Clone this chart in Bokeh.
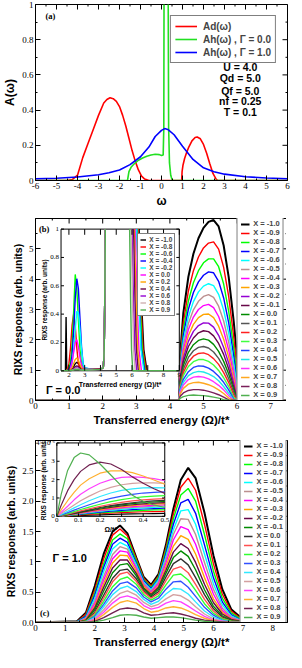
from math import pi
from bokeh.plotting import figure
from bokeh.models import Range1d, FixedTicker, Legend, LegendItem, Label
from bokeh.layouts import column
from bokeh.core.properties import value
from bokeh.embed import file_html
from bokeh.resources import INLINE

nan = float("nan")
SERIF = "Liberation Serif"
SANS = "Liberation Sans"

# ---------------- panel (a) data ----------------
a_red_x = [-6.0, -4.5, -4.25, -4.0, -3.75, -3.5, -3.25, -3.0, -2.75, -2.6, -2.45, -2.3, -2.15, -2.0, -1.85,
           -1.7, -1.55, -1.4, -1.25, -1.1, -0.95, -0.8, -0.6, 0.96, 0.98, 1.02, 1.1, 1.2, 1.3, 1.45,
           1.6, 1.7, 1.85, 2.0, 2.15, 2.3, 2.45, 2.6, 2.68, 6.0]
a_red_y = [0, 0, 0.005, 0.03, 0.13, 0.21, 0.29, 0.37, 0.44, 0.46, 0.47, 0.465, 0.45, 0.42, 0.37,
           0.31, 0.24, 0.17, 0.11, 0.06, 0.025, 0.008, 0, 0, 0.05, 0.085, 0.125, 0.16, 0.19, 0.225,
           0.244, 0.247, 0.237, 0.205, 0.155, 0.095, 0.04, 0.008, 0, 0]
a_grn_x = [-6.0, -1.62, -1.55, -1.45, -1.3, -1.1, -0.9, -0.7, -0.5, -0.3, -0.1, 0.0, 0.08, 0.11, 0.12,
           0.14, 0.22, 0.3, 0.32, 0.34, 0.38, 0.44, 0.5, 0.55, 6.0]
a_grn_y = [0, 0, 0.05, 0.075, 0.095, 0.115, 0.128, 0.138, 0.145, 0.149, 0.147, 0.142, 0.145, 0.3, 1.0,
           1.6, 2.0, 1.6, 1.0, 0.3, 0.1, 0.03, 0.005, 0, 0]
a_blu_x = [-6, -5, -4, -3, -2.5, -2, -1.5, -1.0, -0.6, -0.3, 0.0, 0.15, 0.3, 0.6, 1.0, 1.5, 2.0, 2.5,
           3.0, 4.0, 5.0, 6.0]
a_blu_y = [0.010, 0.013, 0.02, 0.033, 0.044, 0.06, 0.09, 0.135, 0.19, 0.25, 0.285, 0.295, 0.29, 0.26,
           0.195, 0.12, 0.072, 0.05, 0.036, 0.021, 0.014, 0.01]
a_labels = ["Ad(ω)", "Ah(ω) , Γ = 0.0", "Ah(ω) , Γ = 1.0"]
a_params = ["U = 4.0", "Qd = 5.0", "Qf = 5.0", "nf = 0.25", "T = 0.1"]

# ---------------- panel (b) data (units of 1e-3) ----------------
x_labels_20 = ["X = -1.0", "X = -0.9", "X = -0.8", "X = -0.7", "X = -0.6", "X = -0.5", "X = -0.4",
               "X = -0.3", "X = -0.2", "X = -0.1", "X = 0.0", "X = 0.1", "X = 0.2", "X = 0.3",
               "X = 0.4", "X = 0.5", "X = 0.6", "X = 0.7", "X = 0.8", "X = 0.9"]
b_colors = ["#000000", "#ff0000", "#00ff00", "#0000ff", "#00ffff", "#bc8f8f", "#ff00ff", "#ffa500",
            "#9400d3", "#670748", "#008b00", "#555555", "#ff2020", "#40ff40", "#2040ff", "#20e8e8",
            "#ff30ff", "#ffa820", "#7a1f5a", "#50b050"]
b_x = [0, 4.27, 4.3, 4.4, 4.55, 4.7, 4.85, 5.0, 5.15, 5.3, 5.45, 5.6, 5.75, 5.9, 6.0, 6.1, 6.3, 7.5]
b_y = [
    [0, 0, 1.42, 2.89, 4.08, 4.84, 5.35, 5.69, 5.89, 5.95, 5.74, 5.11, 4.07, 2.60, 1.39, 0.04, 0.01, 0],
    [0, 0, 1.27, 2.57, 3.61, 4.28, 4.73, 5.03, 5.19, 5.23, 4.99, 4.39, 3.43, 2.09, 0.99, 0.04, 0.01, 0],
    [0, 0, 1.15, 2.34, 3.28, 3.88, 4.28, 4.54, 4.67, 4.67, 4.41, 3.84, 2.94, 1.74, 0.76, 0.04, 0.01, 0],
    [0, 0, 1.06, 2.15, 3.01, 3.56, 3.91, 4.13, 4.24, 4.21, 3.93, 3.38, 2.56, 1.46, 0.59, 0.04, 0.01, 0],
    [0, 0, 0.98, 1.97, 2.76, 3.26, 3.58, 3.77, 3.85, 3.79, 3.50, 2.98, 2.22, 1.22, 0.43, 0.04, 0.01, 0],
    [0, 0, 0.90, 1.81, 2.54, 2.99, 3.27, 3.43, 3.49, 3.40, 3.11, 2.62, 1.92, 1.02, 0.31, 0.03, 0.01, 0],
    [0, 0, 0.83, 1.67, 2.34, 2.75, 3.00, 3.13, 3.17, 3.06, 2.77, 2.30, 1.66, 0.85, 0.21, 0.03, 0.01, 0],
    [0, 0, 0.76, 1.54, 2.14, 2.51, 2.73, 2.84, 2.85, 2.73, 2.45, 2.02, 1.43, 0.70, 0.12, 0.03, 0.01, 0],
    [0, 0, 0.70, 1.40, 1.95, 2.28, 2.47, 2.56, 2.55, 2.42, 2.15, 1.75, 1.23, 0.57, 0.05, 0.02, 0.01, 0],
    [0, 0, 0.64, 1.28, 1.78, 2.06, 2.23, 2.30, 2.27, 2.13, 1.88, 1.52, 1.04, 0.45, 0.03, 0.02, 0.01, 0],
    [0, 0, 0.57, 1.15, 1.59, 1.84, 1.98, 2.03, 1.99, 1.85, 1.62, 1.29, 0.87, 0.36, 0.03, 0.02, 0.01, 0],
    [0, 0, 0.51, 1.03, 1.42, 1.64, 1.75, 1.78, 1.73, 1.60, 1.39, 1.10, 0.72, 0.27, 0.03, 0.02, 0, 0],
    [0, 0, 0.46, 0.92, 1.27, 1.46, 1.55, 1.57, 1.51, 1.38, 1.19, 0.92, 0.59, 0.18, 0.02, 0.01, 0, 0],
    [0, 0, 0.41, 0.82, 1.12, 1.28, 1.35, 1.35, 1.29, 1.17, 0.99, 0.75, 0.46, 0.10, 0.02, 0.01, 0, 0],
    [0, 0, 0.35, 0.70, 0.95, 1.09, 1.14, 1.13, 1.07, 0.96, 0.80, 0.60, 0.35, 0.04, 0.01, 0.01, 0, 0],
    [0, 0, 0.30, 0.60, 0.82, 0.92, 0.96, 0.94, 0.88, 0.79, 0.65, 0.46, 0.24, 0.01, 0.01, 0, 0, 0],
    [0, 0, 0.26, 0.51, 0.69, 0.77, 0.79, 0.77, 0.71, 0.62, 0.50, 0.35, 0.16, 0.01, 0.01, 0, 0, 0],
    [0, 0, 0.20, 0.40, 0.54, 0.59, 0.60, 0.57, 0.52, 0.45, 0.35, 0.23, 0.08, 0.01, 0, 0, 0, 0],
    [0, 0, 0.13, 0.25, 0.33, 0.36, 0.36, 0.34, 0.30, 0.25, 0.19, 0.11, 0.02, 0.01, 0, 0, 0, 0],
    [0, 0, 0.07, 0.13, 0.17, 0.18, 0.17, 0.16, 0.14, 0.11, 0.08, 0.03, 0.01, 0, 0, 0, 0, 0],
]

# inset (b)
bi_labels = ["X = -1.0", "X = -0.8", "X = -0.6", "X = -0.4", "X = -0.2", "X = 0.0", "X = 0.2",
             "X = 0.4", "X = 0.6", "X = 0.8", "X = 0.9"]
bi_colors = ["#000000", "#ff0000", "#00ff00", "#0000ff", "#00ffff", "#ff00ff", "#ffa500", "#670748",
             "#9400d3", "#d0b0b0", "#50b050"]
bi_x = [1.5, 1.78, 1.82, 1.86, 1.9, 2.0, 2.1, 2.2, 2.3, 2.4, 2.5, 2.6, 2.7, 2.8, 2.9, 3.0, 3.5, 4.0,
        4.18, 4.24, 4.28, 4.31]
bi_y = [
    [0, 0, 0.38, 0.02, 0.01, 0.01, 0.01, 0.015, 0.03, 0.05, 0.06, 0.05, 0.03, 0.015, 0.01, 0.01, 0.01, 0.012, 0.02, 0.15, 0.6, 1.0],
    [0, 0, 0, 0, 0.01, 0.05, 0.16, 0.32, 0.40, 0.32, 0.16, 0.05, 0.02, 0.01, 0.01, 0.01, 0.01, 0.012, 0.02, 0.15, 0.6, 1.0],
    [0, 0, 0, 0, 0, 0.02, 0.06, 0.18, 0.42, 0.68, 0.58, 0.36, 0.15, 0.05, 0.02, 0.01, 0.01, 0.012, 0.02, 0.15, 0.6, 1.0],
    [0, 0, 0, 0, 0, 0.01, 0.03, 0.11, 0.28, 0.51, 0.65, 0.58, 0.37, 0.17, 0.05, 0.02, 0.01, 0.012, 0.02, 0.15, 0.6, 1.0],
    [0, 0, 0, 0, 0, 0, 0.01, 0.05, 0.15, 0.29, 0.42, 0.41, 0.29, 0.15, 0.05, 0.02, 0.01, 0.012, 0.02, 0.15, 0.6, 1.0],
    [0, 0, 0, 0, 0, 0, 0.02, 0.06, 0.13, 0.20, 0.22, 0.17, 0.095, 0.04, 0.015, 0.01, 0.01, 0.012, 0.02, 0.15, 0.6, 1.0],
    [0, 0, 0, 0, 0, 0, 0.01, 0.02, 0.05, 0.08, 0.09, 0.075, 0.045, 0.02, 0.01, 0.01, 0.01, 0.012, 0.02, 0.15, 0.6, 1.0],
    [0, 0, 0, 0, 0, 0, 0, 0.01, 0.02, 0.03, 0.035, 0.03, 0.015, 0.01, 0.01, 0.01, 0.01, 0.012, 0.02, 0.15, 0.6, 1.0],
    [0, 0, 0, 0, 0, 0, 0, 0.005, 0.01, 0.018, 0.02, 0.017, 0.01, 0.008, 0.006, 0.006, 0.008, 0.01, 0.02, 0.15, 0.6, 1.0],
    [0, 0, 0, 0, 0, 0, 0, 0.004, 0.008, 0.013, 0.015, 0.013, 0.008, 0.006, 0.005, 0.005, 0.007, 0.01, 0.02, 0.15, 0.6, 1.0],
    [0, 0, 0, 0, 0, 0, 0, 0.003, 0.006, 0.009, 0.01, 0.009, 0.006, 0.005, 0.004, 0.004, 0.006, 0.01, 0.02, 0.15, 0.6, 1.0],
]
bi_fall_x = [
    [6.45, 6.6, 6.75, 6.95], [6.4, 6.55, 6.7, 6.9], [6.35, 6.5, 6.65, 6.85], [6.3, 6.45, 6.6, 6.8],
    [6.3, 6.44, 6.57, 6.75], [6.2, 6.32, 6.44, 6.6], [6.15, 6.26, 6.36, 6.5], [6.1, 6.19, 6.28, 6.4],
    [6.0, 6.09, 6.18, 6.3], [5.95, 6.03, 6.1, 6.2], [5.85, 5.91, 5.97, 6.05],
]
bi_fall_y = [1.0, 0.5, 0.15, 0.0]

# ---------------- panel (c) data (units of 1e-3) ----------------
c_colors = ["#000000", "#ff0000", "#00ff00", "#0000ff", "#00ffff", "#bc8f8f", "#ff00ff", "#ffa500",
            "#670748", "#008b00", "#303030", "#ff5050", "#30ff30", "#3050ff", "#30e8ff", "#d4a0a0",
            "#ff40ff", "#ffb030", "#702050", "#50b050"]
c_x = [0, 1.4, 1.7, 2.0, 2.3, 2.6, 2.85, 3.1, 3.4, 3.65, 3.9, 4.15, 4.4, 4.65, 4.9, 5.15, 5.4, 5.7,
       6.0, 6.3, 6.6, 7.0, 7.5, 8.0]
c_y = [
    [0, 0.02, 0.16, 0.60, 1.13, 1.50, 1.60, 1.47, 1.07, 0.75, 0.62, 0.80, 1.28, 1.87, 2.35, 2.55, 2.38, 1.81, 1.11, 0.55, 0.22, 0.05, 0.01, 0],
    [0, 0.01, 0.14, 0.54, 1.05, 1.44, 1.54, 1.43, 1.05, 0.73, 0.60, 0.77, 1.23, 1.79, 2.23, 2.38, 2.18, 1.62, 0.97, 0.47, 0.19, 0.04, 0.01, 0],
    [0, 0.01, 0.11, 0.49, 0.97, 1.36, 1.46, 1.38, 1.02, 0.71, 0.58, 0.75, 1.19, 1.71, 2.10, 2.21, 2.00, 1.45, 0.85, 0.40, 0.16, 0.03, 0.01, 0],
    [0, 0.01, 0.10, 0.45, 0.91, 1.29, 1.39, 1.32, 0.98, 0.69, 0.56, 0.72, 1.14, 1.62, 1.97, 2.03, 1.80, 1.28, 0.74, 0.34, 0.13, 0.02, 0.005, 0],
    [0, 0.01, 0.08, 0.40, 0.84, 1.21, 1.32, 1.26, 0.95, 0.66, 0.54, 0.70, 1.09, 1.53, 1.84, 1.86, 1.62, 1.13, 0.64, 0.29, 0.11, 0.02, 0, 0],
    [0, 0, 0.07, 0.35, 0.76, 1.12, 1.25, 1.21, 0.91, 0.64, 0.52, 0.67, 1.04, 1.45, 1.71, 1.70, 1.45, 0.99, 0.55, 0.24, 0.09, 0.02, 0, 0],
    [0, 0, 0.06, 0.31, 0.70, 1.05, 1.18, 1.16, 0.89, 0.62, 0.50, 0.64, 0.98, 1.36, 1.58, 1.53, 1.29, 0.86, 0.47, 0.20, 0.07, 0.01, 0, 0],
    [0, 0, 0.05, 0.27, 0.64, 0.98, 1.11, 1.10, 0.85, 0.60, 0.48, 0.60, 0.92, 1.26, 1.43, 1.37, 1.13, 0.74, 0.39, 0.17, 0.06, 0.01, 0, 0],
    [0, 0, 0.04, 0.24, 0.58, 0.90, 1.03, 1.03, 0.81, 0.57, 0.46, 0.58, 0.86, 1.16, 1.30, 1.22, 0.99, 0.63, 0.33, 0.14, 0.05, 0.01, 0, 0],
    [0, 0, 0.03, 0.21, 0.52, 0.82, 0.95, 0.97, 0.77, 0.55, 0.44, 0.55, 0.81, 1.07, 1.18, 1.09, 0.87, 0.54, 0.27, 0.11, 0.04, 0.01, 0, 0],
    [0, 0, 0.02, 0.17, 0.45, 0.73, 0.86, 0.88, 0.72, 0.52, 0.42, 0.51, 0.75, 0.97, 1.05, 0.95, 0.74, 0.46, 0.23, 0.09, 0.03, 0.01, 0, 0],
    [0, 0, 0.02, 0.15, 0.40, 0.67, 0.80, 0.83, 0.68, 0.50, 0.40, 0.48, 0.69, 0.88, 0.92, 0.82, 0.63, 0.38, 0.19, 0.07, 0.02, 0.01, 0, 0],
    [0, 0, 0.02, 0.12, 0.35, 0.59, 0.71, 0.75, 0.63, 0.46, 0.37, 0.44, 0.62, 0.78, 0.80, 0.70, 0.53, 0.31, 0.15, 0.06, 0.02, 0, 0, 0],
    [0, 0, 0.01, 0.10, 0.30, 0.52, 0.64, 0.67, 0.57, 0.42, 0.34, 0.40, 0.55, 0.67, 0.68, 0.58, 0.43, 0.25, 0.12, 0.04, 0.01, 0, 0, 0],
    [0, 0, 0.01, 0.08, 0.26, 0.46, 0.56, 0.60, 0.51, 0.38, 0.30, 0.35, 0.47, 0.56, 0.55, 0.47, 0.34, 0.19, 0.09, 0.03, 0.01, 0, 0, 0],
    [0, 0, 0.01, 0.06, 0.21, 0.38, 0.48, 0.52, 0.45, 0.33, 0.26, 0.30, 0.39, 0.46, 0.44, 0.37, 0.26, 0.14, 0.06, 0.02, 0.01, 0, 0, 0],
    [0, 0, 0, 0.05, 0.17, 0.32, 0.41, 0.44, 0.39, 0.28, 0.22, 0.25, 0.32, 0.36, 0.34, 0.27, 0.19, 0.10, 0.04, 0.02, 0, 0, 0, 0],
    [0, 0, 0, 0.03, 0.13, 0.25, 0.33, 0.36, 0.32, 0.23, 0.17, 0.19, 0.24, 0.26, 0.24, 0.19, 0.13, 0.07, 0.03, 0.01, 0, 0, 0, 0],
    [0, 0, 0, 0.02, 0.08, 0.16, 0.22, 0.24, 0.22, 0.16, 0.12, 0.13, 0.15, 0.16, 0.14, 0.11, 0.07, 0.04, 0.02, 0.01, 0, 0, 0, 0],
    [0, 0, 0, 0.01, 0.04, 0.08, 0.12, 0.13, 0.12, 0.09, 0.07, 0.08, 0.09, 0.09, 0.08, 0.06, 0.04, 0.02, 0.01, 0, 0, 0, 0, 0],
]

# inset (c) (units of 1e-6)
ci_x = [0, 0.02, 0.05, 0.08, 0.11, 0.15, 0.2, 0.25, 0.3, 0.35, 0.4, 0.45, 0.5]
ci_y = [
    [0, 0.005, 0.015, 0.03, 0.04, 0.06, 0.08, 0.10, 0.12, 0.13, 0.14, 0.15, 0.16],
    [0, 0.01, 0.03, 0.05, 0.08, 0.11, 0.14, 0.17, 0.20, 0.23, 0.25, 0.26, 0.27],
    [0, 0.015, 0.04, 0.07, 0.10, 0.14, 0.19, 0.23, 0.27, 0.30, 0.33, 0.35, 0.36],
    [0, 0.02, 0.05, 0.09, 0.12, 0.17, 0.23, 0.28, 0.33, 0.37, 0.40, 0.42, 0.44],
    [0, 0.02, 0.06, 0.10, 0.14, 0.20, 0.27, 0.33, 0.38, 0.43, 0.46, 0.49, 0.51],
    [0, 0.025, 0.065, 0.11, 0.16, 0.23, 0.30, 0.37, 0.43, 0.48, 0.52, 0.55, 0.57],
    [0, 0.03, 0.07, 0.13, 0.18, 0.25, 0.34, 0.41, 0.47, 0.53, 0.57, 0.60, 0.63],
    [0, 0.03, 0.08, 0.14, 0.20, 0.28, 0.37, 0.45, 0.52, 0.58, 0.63, 0.66, 0.69],
    [0, 0.03, 0.085, 0.15, 0.22, 0.30, 0.40, 0.49, 0.57, 0.63, 0.68, 0.72, 0.75],
    [0, 0.04, 0.09, 0.17, 0.24, 0.33, 0.44, 0.54, 0.62, 0.69, 0.74, 0.78, 0.81],
    [0, 0.04, 0.10, 0.18, 0.26, 0.36, 0.48, 0.58, 0.67, 0.74, 0.80, 0.84, 0.87],
    [0, 0.05, 0.12, 0.21, 0.30, 0.41, 0.54, 0.66, 0.76, 0.84, 0.90, 0.94, 0.97],
    [0, 0.06, 0.15, 0.26, 0.37, 0.50, 0.66, 0.80, 0.91, 1.00, 1.06, 1.10, 1.13],
    [0, 0.08, 0.20, 0.34, 0.47, 0.63, 0.82, 0.98, 1.10, 1.20, 1.27, 1.31, 1.33],
    [0, 0.10, 0.28, 0.46, 0.63, 0.85, 1.08, 1.27, 1.41, 1.50, 1.55, 1.56, 1.55],
    [0, 0.15, 0.38, 0.62, 0.85, 1.10, 1.38, 1.58, 1.72, 1.80, 1.83, 1.82, 1.80],
    [0, 0.22, 0.55, 0.90, 1.20, 1.50, 1.80, 2.00, 2.12, 2.15, 2.12, 2.05, 1.95],
    [0, 0.35, 0.85, 1.30, 1.70, 2.05, 2.35, 2.48, 2.48, 2.38, 2.20, 1.98, 1.75],
    [0, 0.60, 1.40, 2.00, 2.45, 2.80, 2.95, 2.85, 2.55, 2.15, 1.80, 1.50, 1.25],
    [0, 1.20, 2.50, 3.20, 3.45, 3.35, 2.85, 2.25, 1.65, 1.15, 0.82, 0.62, 0.48],
]

# ---------------- layout constants ----------------
FW = 252
BL, BR = 30, 4


def make_fig(xr, yr, fh, bt, bb):
    p = figure(frame_width=FW, frame_height=fh,
               x_range=Range1d(xr[0], xr[1]), y_range=Range1d(yr[0], yr[1]),
               min_border_left=BL, min_border_right=BR, min_border_top=bt, min_border_bottom=bb,
               output_backend="svg", toolbar_location=None)
    p.xgrid.visible = False
    p.ygrid.visible = False
    p.outline_line_color = "black"
    p.background_fill_color = "white"
    p.border_fill_color = "white"
    return p


def style_axes(p, xr, yr, xt, xm, yt, ym, xl, yl, xtitle, ytitle, xts, yts):
    xtk = FixedTicker(ticks=xt, minor_ticks=xm)
    ytk = FixedTicker(ticks=yt, minor_ticks=ym)
    ax, ay = p.xaxis[0], p.yaxis[0]
    ax.ticker = xtk
    ay.ticker = ytk
    ax.major_label_overrides = dict(zip(xt, xl))
    ay.major_label_overrides = dict(zip(yt, yl))
    ax.axis_label = xtitle
    ay.axis_label = ytitle
    for a in (ax, ay):
        a.major_tick_in = 5
        a.major_tick_out = 0
        a.minor_tick_in = 2
        a.minor_tick_out = 0
        a.axis_line_color = "black"
        a.major_tick_line_color = "black"
        a.minor_tick_line_color = "black"
        a.major_label_text_font = SERIF
        a.major_label_text_font_size = "9px"
        a.major_label_text_color = "black"
        a.major_label_standoff = 2
        a.axis_label_text_font = SANS
        a.axis_label_text_font_style = "bold"
        a.axis_label_text_color = "black"
        a.axis_label_standoff = 2
    ax.axis_label_text_font_size = xts
    ay.axis_label_text_font_size = yts
    # mirrored inward ticks on the top and right frame edges (outer half clipped by the frame)
    p.scatter(x=xt, y=[yr[1]] * len(xt), marker="dash", angle=pi / 2, size=10, line_color="black")
    p.scatter(x=xm, y=[yr[1]] * len(xm), marker="dash", angle=pi / 2, size=4, line_color="black")
    p.scatter(x=[xr[1]] * len(yt), y=yt, marker="dash", size=10, line_color="black")
    p.scatter(x=[xr[1]] * len(ym), y=ym, marker="dash", size=4, line_color="black")


def add_label(p, x, y, text, size, font=SANS, bold=True, align="left", baseline="middle", xo=0, yo=0):
    p.add_layout(Label(x=x, y=y, text=text, text_font=font, text_font_size=size,
                       text_font_style="bold" if bold else "normal", text_align=align,
                       text_baseline=baseline, x_offset=xo, y_offset=yo, text_color="black"))


def steps(a, b, step):
    n = int(round((b - a) / step))
    return [a + i * step for i in range(n + 1)]


def inset_axes(sub, xs, ys, xt, xl, yt, yl, xtitle, ytitle, xto, yto):
    dy = 0.04 * (ys[1] - ys[0])
    dx = 0.025 * (xs[1] - xs[0])
    n, m = len(xt), len(yt)
    kw = dict(line_color="black", line_width=1)
    sub.segment(x0=xt, y0=[ys[0]] * n, x1=xt, y1=[ys[0] + dy] * n, **kw)
    sub.segment(x0=xt, y0=[ys[1]] * n, x1=xt, y1=[ys[1] - dy] * n, **kw)
    sub.segment(x0=[xs[0]] * m, y0=yt, x1=[xs[0] + dx] * m, y1=yt, **kw)
    sub.segment(x0=[xs[1]] * m, y0=yt, x1=[xs[1] - dx] * m, y1=yt, **kw)
    sub.text(x=xt, y=[ys[0]] * n, text=xl, text_align="center", text_baseline="top", y_offset=2,
             text_font=value(SERIF), text_font_size="7px", text_color="black")
    sub.text(x=[xs[0]] * m, y=yt, text=yl, text_align="right", text_baseline="middle", x_offset=-2,
             text_font=value(SERIF), text_font_size="7px", text_color="black")
    sub.text(x=[(xs[0] + xs[1]) / 2], y=[ys[0]], text=[xtitle], text_align="center", text_baseline="top",
             y_offset=xto, text_font=value(SANS), text_font_style="bold", text_font_size="7px",
             text_color="black")
    sub.text(x=[xs[0]], y=[(ys[0] + ys[1]) / 2], text=[ytitle], angle=pi / 2, text_align="center",
             text_baseline="bottom", x_offset=-yto, text_font=value(SANS), text_font_style="bold",
             text_font_size="6.5px", text_color="black")


# ================= panel (a) =================
FH_A = 176
a_xr, a_yr = (-6, 6), (0, 1)
pa = make_fig(a_xr, a_yr, FH_A, 4, 27)
a_xt = list(range(-6, 7))
a_yt = [0, 0.2, 0.4, 0.6, 0.8, 1]
style_axes(pa, a_xr, a_yr, a_xt, steps(-5.5, 5.5, 1.0), a_yt, [0.1, 0.3, 0.5, 0.7, 0.9],
           [str(v) for v in a_xt], ["0", "0.2", "0.4", "0.6", "0.8", "1"],
           "ω", "A(ω)", "12px", "12px")
r_red = pa.line(a_red_x, a_red_y, line_color="#ff0000", line_width=1.6)
r_grn = pa.line(a_grn_x, a_grn_y, line_color="#22e022", line_width=1.6)
r_blu = pa.line(a_blu_x, a_blu_y, line_color="#0000ff", line_width=1.6)
leg_a = Legend(items=[LegendItem(label=a_labels[0], renderers=[r_red]),
                      LegendItem(label=a_labels[1], renderers=[r_grn]),
                      LegendItem(label=a_labels[2], renderers=[r_blu])],
               location="top_right", margin=11, label_text_font=SANS, label_text_font_style="bold",
               label_text_font_size="10px", glyph_width=22, glyph_height=12, label_height=12,
               spacing=1, padding=4, label_standoff=6, border_line_color="black",
               border_line_width=1, background_fill_alpha=1.0)
pa.add_layout(leg_a)
a_param_y = [0.643, 0.582, 0.511, 0.45, 0.388]
for txt, yy in zip(a_params, a_param_y):
    add_label(pa, 3.75, yy, txt, "10.5px", align="center")
add_label(pa, -5.29, 0.933, "(a)", "8.5px", font=SERIF, align="center")

# ================= panel (b) =================
FH_B = 182
b_xr, b_yr = (0, 7.5), (0, 6)
pb = make_fig(b_xr, b_yr, FH_B, 8, 30)
b_xt = list(range(0, 8))
b_yt = list(range(0, 7))
style_axes(pb, b_xr, b_yr, b_xt, steps(0.5, 7.5, 1.0), b_yt, steps(0.5, 5.5, 1.0),
           [str(v) for v in b_xt], ["0", "1", "2", "3", "4", "5", ""],
           "Transferred energy (Ω)/t*", "RIXS response (arb. units)", "11.5px", "10.5px")
rb = []
for k, (ys, col) in enumerate(zip(b_y, b_colors)):
    rb.append(pb.line(b_x, ys, line_color=col, line_width=2 if k == 0 else 1.4))
leg_b = Legend(items=[LegendItem(label=l, renderers=[r]) for l, r in zip(x_labels_20, rb)],
               location="right", margin=0, label_text_font=SANS, label_text_font_style="bold",
               label_text_font_size="7.5px", glyph_width=9, glyph_height=8, label_height=8,
               spacing=0, padding=3, label_standoff=4, border_line_color="black",
               border_line_width=1, background_fill_alpha=1.0)
pb.add_layout(leg_b)
add_label(pb, 0, 6, "6×10⁻³", "8px", font=SERIF, bold=False, align="right", xo=-2)
add_label(pb, 0.26, 5.67, "(b)", "8.5px", font=SERIF, align="center")
add_label(pb, 0.31, 0.36, "Γ = 0.0", "11px")

bi_xr, bi_yr = (1.5, 9.0), (0.0, 1.0)
sb = pb.subplot(x_source=Range1d(*bi_xr), y_source=Range1d(*bi_yr),
                x_target=Range1d(0.76, 4.28), y_target=Range1d(0.98, 5.65))
sb.quad(left=[bi_xr[0]], right=[bi_xr[1]], bottom=[bi_yr[0]], top=[bi_yr[1]],
        fill_color="white", line_color="black", line_width=1)
rbi = []
for k in range(len(bi_y)):
    xs = bi_x + [5.0] + bi_fall_x[k] + [9.0]
    ys = bi_y[k] + [nan] + bi_fall_y + [0.0]
    rbi.append(sb.line(xs, ys, line_color=bi_colors[k], line_width=1.4))
inset_axes(sb, bi_xr, bi_yr, list(range(2, 10)), [str(v) for v in range(2, 10)],
           [0, 0.2, 0.4, 0.6, 0.8, 1], ["0", "0.2", "0.4", "0.6", "0.8", "1"],
           "Transferred energy (Ω)/t*", "RIXS response (arb. units)", 10, 13)
bleg_left = int(round(3.21 / 7.5 * FW))
bleg_bottom = int(round(2.77 / 6 * FH_B))
leg_bi = Legend(items=[LegendItem(label=l, renderers=[r]) for l, r in zip(bi_labels, rbi)],
                location=(bleg_left, bleg_bottom), margin=0, label_text_font=SANS,
                label_text_font_style="bold", label_text_font_size="6.5px", glyph_width=6,
                glyph_height=7, label_height=7, spacing=0, padding=2, label_standoff=3,
                border_line_color="black", border_line_width=1, background_fill_alpha=1.0)
pb.add_layout(leg_bi)

# ================= panel (c) =================
FH_C = 182
c_xr, c_yr = (0, 8.5), (0, 3)
pc = make_fig(c_xr, c_yr, FH_C, 10, 30)
c_xt = list(range(0, 9))
c_yt = [0, 0.5, 1, 1.5, 2, 2.5, 3]
style_axes(pc, c_xr, c_yr, c_xt, steps(0.5, 8.5, 1.0), c_yt, [0.25, 0.75, 1.25, 1.75, 2.25, 2.75],
           [str(v) for v in c_xt], ["0.0", "0.5", "1", "1.5", "2.0", "2.5", ""],
           "Transferred energy (Ω)/t*", "RIXS response (arb. units)", "11.5px", "10.5px")
rc = []
for k, (ys, col) in enumerate(zip(c_y, c_colors)):
    rc.append(pc.line(c_x, ys, line_color=col, line_width=2 if k == 0 else 1.4))
leg_c = Legend(items=[LegendItem(label=l, renderers=[r]) for l, r in zip(x_labels_20, rc)],
               location="right", margin=0, label_text_font=SANS, label_text_font_style="bold",
               label_text_font_size="7.5px", glyph_width=9, glyph_height=8, label_height=8,
               spacing=0, padding=3, label_standoff=4, border_line_color="black",
               border_line_width=1, background_fill_alpha=1.0)
pc.add_layout(leg_c)
add_label(pc, 0, 3, "3×10⁻³", "8px", font=SERIF, bold=False, align="right", xo=-2)
add_label(pc, 0.31, 0.15, "(c)", "8.5px", font=SERIF, align="center")
add_label(pc, 0.575, 1.07, "Γ = 1.0", "11px")

ci_xr, ci_yr = (0.0, 0.5), (0.0, 4.0)
sc = pc.subplot(x_source=Range1d(*ci_xr), y_source=Range1d(*ci_yr),
                x_target=Range1d(0.72, 4.36), y_target=Range1d(1.75, 2.96))
sc.quad(left=[ci_xr[0]], right=[ci_xr[1]], bottom=[ci_yr[0]], top=[ci_yr[1]],
        fill_color="white", line_color="black", line_width=1)
for k in range(len(ci_y)):
    sc.line(ci_x, ci_y[k], line_color=c_colors[k], line_width=1.2)
inset_axes(sc, ci_xr, ci_yr, [0, 0.1, 0.2, 0.3, 0.4, 0.5], ["0", "0.1", "0.2", "0.3", "0.4", "0.5"],
           [0, 1, 2, 3, 4], ["0", "1", "2", "3", "4×10⁻⁶"],
           "Ω/t*", "RIXS response (arb. units)", 10, 10)

layout = column(pa, pb, pc)
open("out.html", "w").write(file_html(layout, INLINE))
